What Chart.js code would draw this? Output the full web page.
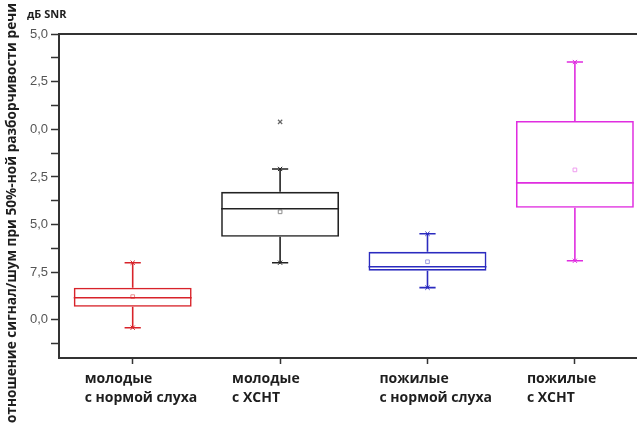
<!DOCTYPE html>
<html>
<head>
<meta charset="utf-8">
<script src="https://cdn.jsdelivr.net/npm/chart.js@4.4.1/dist/chart.umd.min.js"></script>
<style>
  html, body { margin: 0; padding: 0; background: #fff; overflow: hidden; }
</style>
</head>
<body>
<canvas id="chart" width="642" height="427"></canvas>
<script>
// Data
var xLabels = [
    ['молодые', 'с нормой слуха'],
    ['молодые', 'с ХСНТ'],
    ['пожилые', 'с нормой слуха'],
    ['пожилые', 'с ХСНТ']
];
var whiskerLow  = [-10.41, -7.00, -8.31, -6.90];
var q1          = [-9.31, -5.64, -7.42, -4.12];
var median      = [-8.84, -4.17, -7.21, -2.81];
var q3          = [-8.31, -3.28, -6.43, 0.44];
var whiskerHigh = [-7.00, -2.08, -5.48, 3.53];
var means       = [-8.78, -4.33, -6.95, -2.13];
var outlierGroup = [2];
var outlierValue = [0.39];

var yTickValues = [-10, -7.5, -5, -2.5, 0, 2.5, 5];
var yTickLabels = ['0,0', '7,5', '5,0', '2,5', '0,0', '2,5', '5,0'];

var yTitle = 'отношение сигнал/шум при 50%-ной разборчивости речи';
var unitLabel = 'дБ SNR';

var colors     = ['#d8232a', '#222222', '#2b2bbf', '#e02de0'];
var meanColors = ['#e99090', '#8c8c8c', '#9c9ce2', '#ef9cef'];

var boxWidth = 0.8;
var capHalf = 0.055;

// minor ticks halfway between labelled ones
var yAllTicks = [];
for (var i = 0; i < yTickValues.length; i++) {
    if (i > 0) yAllTicks.push((yTickValues[i - 1] + yTickValues[i]) / 2);
    yAllTicks.push(yTickValues[i]);
}
yAllTicks.unshift(yTickValues[0] - 1.25);

function segments(i) {
    var x = i + 1, h = boxWidth / 2;
    return [
        {x: x, y: whiskerLow[i]}, {x: x, y: q1[i]}, {x: x, y: null},
        {x: x, y: q3[i]}, {x: x, y: whiskerHigh[i]}, {x: x, y: null},
        {x: x - h, y: median[i]}, {x: x + h, y: median[i]}, {x: x, y: null},
        {x: x - capHalf, y: whiskerHigh[i]}, {x: x + capHalf, y: whiskerHigh[i]}, {x: x, y: null},
        {x: x - capHalf, y: whiskerLow[i]}, {x: x + capHalf, y: whiskerLow[i]}
    ];
}

var datasets = [];
datasets.push({
    type: 'bar',
    data: xLabels.map(function (l, i) { return {x: i + 1, y: [q1[i], q3[i]]}; }),
    backgroundColor: 'rgba(255,255,255,0)',
    borderColor: colors,
    borderWidth: 1.6,
    borderSkipped: false,
    barPercentage: boxWidth,
    categoryPercentage: 1
});
for (var g = 0; g < xLabels.length; g++) {
    datasets.push({
        type: 'line',
        data: segments(g),
        borderColor: colors[g],
        borderWidth: 1.6,
        pointRadius: 0,
        spanGaps: false,
        tension: 0
    });
}
// small crosses at the whisker ends
var capPts = [], capCols = [];
for (var g = 0; g < xLabels.length; g++) {
    capPts.push({x: g + 1, y: whiskerHigh[g]}, {x: g + 1, y: whiskerLow[g]});
    capCols.push(colors[g], colors[g]);
}
datasets.push({
    type: 'scatter',
    data: capPts,
    pointStyle: 'crossRot',
    pointRadius: 3,
    borderColor: capCols,
    borderWidth: 1
});
datasets.push({
    type: 'scatter',
    data: means.map(function (m, i) { return {x: i + 1, y: m}; }),
    pointStyle: 'rect',
    pointRadius: 2.6,
    backgroundColor: '#fff',
    borderColor: meanColors,
    borderWidth: 1
});
datasets.push({
    type: 'scatter',
    data: outlierGroup.map(function (gr, i) { return {x: gr, y: outlierValue[i]}; }),
    pointStyle: 'crossRot',
    pointRadius: 3,
    borderColor: '#666',
    borderWidth: 1.2
});

const freeText = {
    id: 'freeText',
    afterDraw(chart) {
        var ctx = chart.ctx;
        ctx.save();
        ctx.fillStyle = '#1e1e1e';
        ctx.font = 'bold 11px "Open Sans"';
        ctx.textBaseline = 'middle';
        ctx.fillText(unitLabel, 27, 15);
        ctx.translate(12, 213);
        ctx.rotate(-Math.PI / 2);
        ctx.font = 'bold 13px "Open Sans"';
        var w = ctx.measureText(yTitle).width;
        ctx.font = 'bold ' + (13 * 420 / w).toFixed(2) + 'px "Open Sans"';
        ctx.textAlign = 'center';
        ctx.fillText(yTitle, 0, 0);
        ctx.restore();
    }
};

new Chart(document.getElementById('chart').getContext('2d'), {
    type: 'bar',
    data: { datasets: datasets },
    options: {
        responsive: false,
        animation: false,
        events: [],
        layout: { padding: { top: 34, left: 0, right: 0, bottom: 0 } },
        plugins: { legend: { display: false }, tooltip: { enabled: false } },
        scales: {
            x: {
                type: 'linear',
                offset: false,
                min: 0.5,
                max: 4.42,
                afterBuildTicks: function (s) { s.ticks = xLabels.map(function (l, i) { return {value: i + 1}; }); },
                afterFit: function (s) { s.height = 69; s.paddingRight = 0; s.paddingLeft = 0; },
                grid: { offset: false, drawOnChartArea: false, tickLength: 6, tickColor: '#333', tickWidth: 1.5 },
                border: { display: true, color: '#333', width: 2 },
                ticks: {
                    align: 'start',
                    labelOffset: -48,
                    padding: 5,
                    color: '#1e1e1e',
                    font: { family: '"Open Sans"', size: 14, weight: 'bold', lineHeight: 1.4 },
                    callback: function (v) { return xLabels[Math.round(v) - 1]; }
                }
            },
            xTop: {
                type: 'linear',
                position: 'top',
                offset: false,
                min: 0.5,
                max: 4.42,
                afterFit: function (s) { s.height = 0; s.paddingRight = 0; s.paddingLeft = 0; },
                grid: { display: false, drawTicks: false },
                ticks: { display: false },
                border: { display: true, color: '#333', width: 2 }
            },
            y: {
                min: -12,
                max: 5,
                afterBuildTicks: function (s) { s.ticks = yAllTicks.map(function (v) { return {value: v}; }); },
                afterFit: function (s) { s.width = 59; },
                grid: { drawOnChartArea: false, tickLength: 8, tickColor: '#333', tickWidth: 1.5 },
                border: { display: true, color: '#333', width: 2 },
                ticks: {
                    padding: 3,
                    color: '#555',
                    font: { family: '"Liberation Sans"', size: 13 },
                    callback: function (v) {
                        for (var k = 0; k < yTickValues.length; k++) {
                            if (Math.abs(yTickValues[k] - v) < 1e-6) return yTickLabels[k];
                        }
                        return '';
                    }
                }
            }
        }
    },
    plugins: [freeText]
});
</script>
</body>
</html>
